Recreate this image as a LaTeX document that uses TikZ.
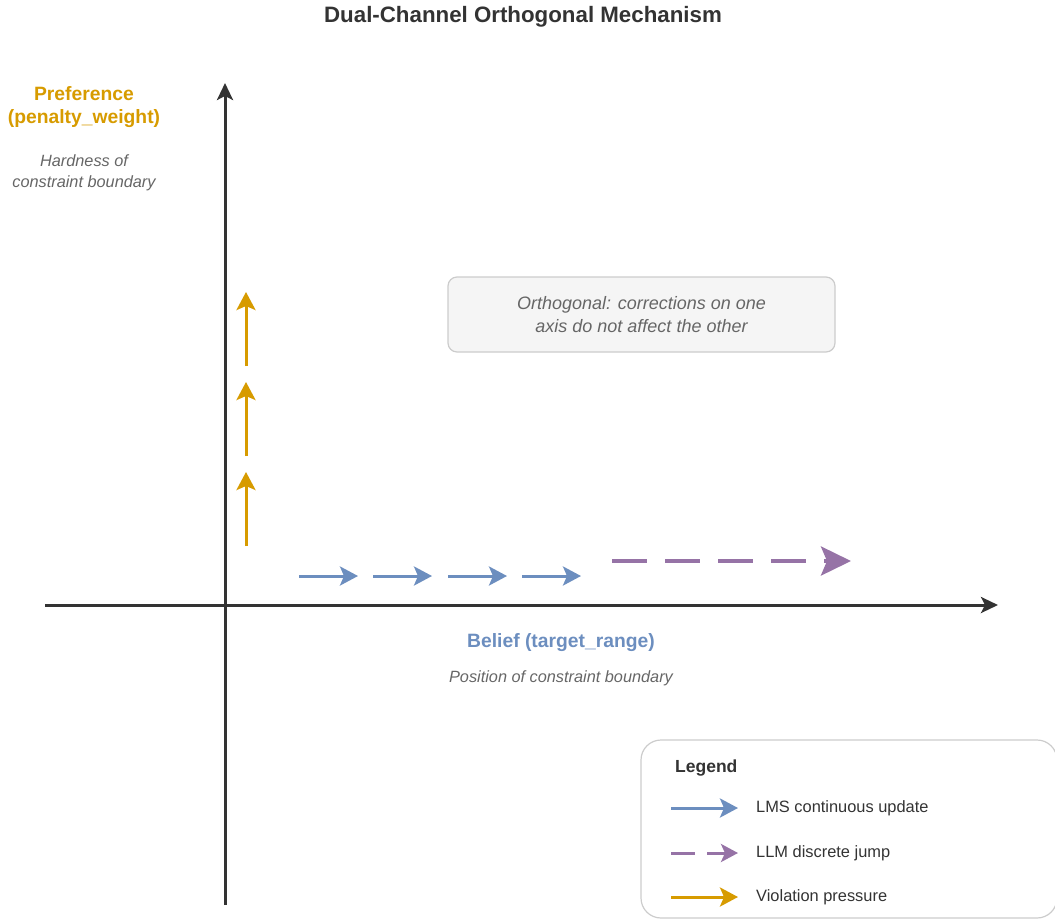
\documentclass[tikz,border=0pt]{standalone}
\usepackage{fontspec}
\setmainfont{Liberation Sans}
\usetikzlibrary{arrows.meta}

\definecolor{inkdark}{HTML}{333333}
\definecolor{inkgray}{HTML}{666666}
\definecolor{prefcol}{HTML}{D79B00}
\definecolor{beliefcol}{HTML}{6C8EBF}
\definecolor{jumpcol}{HTML}{9673A6}
\definecolor{notefill}{HTML}{F5F5F5}
\definecolor{notedraw}{HTML}{CCCCCC}

\tikzset{
  axisline/.style={draw=inkdark, line width=3pt,
    -{Stealth[length=17pt, width=16pt, inset=4pt]}},
  lmsarrow/.style={draw=beliefcol, line width=3pt,
    -{Stealth[length=18pt, width=19pt, inset=4pt]}},
  pressarrow/.style={draw=prefcol, line width=3pt,
    -{Stealth[length=18pt, width=19pt, inset=4pt]}},
  jumparrow/.style={draw=jumpcol, line width=4pt,
    dash pattern=on 35pt off 18pt,
    -{Stealth[length=30pt, width=29pt, inset=6pt]}},
  legjump/.style={draw=jumpcol, line width=3pt,
    dash pattern=on 24pt off 12pt,
    -{Stealth[length=17pt, width=18pt, inset=4pt]}},
  titletext/.style={text=inkdark, font=\fontsize{22.3}{26}\selectfont\bfseries},
  axisname/.style={font=\fontsize{19.3}{23}\selectfont\bfseries, align=center, inner sep=0pt},
  axisnote/.style={text=inkgray, font=\fontsize{16.3}{21}\selectfont\itshape, align=center, inner sep=0pt},
  legtext/.style={text=inkdark, font=\fontsize{16.4}{20}\selectfont, anchor=west, inner sep=0pt},
}

\begin{document}
\begin{tikzpicture}[x=1pt, y=-1pt]
  \useasboundingbox (0,0) rectangle (1055,919);

  % title
  \node[titletext] (title) at (523,17) {Dual-Channel Orthogonal Mechanism};

  % axes
  \coordinate (yfoot) at (225,905);
  \coordinate (ytop) at (225,83);
  \coordinate (xleft) at (45,605);
  \coordinate (xright) at (998,605);
  \draw[axisline] (yfoot) -- (ytop);
  \draw[axisline] (xleft) -- (xright);

  % vertical axis labels
  \node[axisname, text=prefcol] (preflabel) at (84,107) {Preference\\(penalty\_weight)};
  \node[axisnote] (prefnote) at (84,173) {Hardness of\\constraint boundary};

  % horizontal axis labels
  \node[axisname, text=beliefcol] (belieflabel) at (561,643) {Belief (target\_range)};
  \node[axisnote] (beliefnote) at (561,678) {Position of constraint boundary};

  % orthogonality note
  \node[draw=notedraw, fill=notefill, line width=1.2pt, rounded corners=9pt,
        minimum width=387pt, minimum height=75pt, align=center,
        text=inkgray, font=\fontsize{18}{23}\selectfont\itshape]
    (note) at (641.5,314.5) {Orthogonal: corrections on one\\axis do not affect the other};

  % violation pressure steps
  \foreach \i/\a/\b in {1/546/472, 2/456/382, 3/366/292} {
    \coordinate (p\i s) at (246,\a);
    \coordinate (p\i e) at (246,\b);
    \draw[pressarrow] (p\i s) -- (p\i e);
  }

  % LMS continuous updates
  \foreach \i/\a/\b in {1/299/358, 2/373/432, 3/448/507, 4/522/581} {
    \coordinate (l\i s) at (\a,576);
    \coordinate (l\i e) at (\b,576);
    \draw[lmsarrow] (l\i s) -- (l\i e);
  }

  % LLM discrete jump
  \coordinate (js) at (612,561);
  \coordinate (je) at (851,561);
  \draw[jumparrow] (js) -- (je);

  % legend
  \node[draw=notedraw, line width=1.2pt, rounded corners=20pt,
        minimum width=416pt, minimum height=178pt, inner sep=0pt]
    (legend) at (849,829) {};
  \node[text=inkdark, font=\fontsize{17.5}{21}\selectfont\bfseries, anchor=west, inner sep=0pt]
    (legtitle) at (675,768) {Legend};

  \coordinate (k1s) at (671,808); \coordinate (k1e) at (738,808);
  \coordinate (k2s) at (671,853); \coordinate (k2e) at (738,853);
  \coordinate (k3s) at (671,897); \coordinate (k3e) at (738,897);
  \draw[lmsarrow] (k1s) -- (k1e);
  \draw[legjump] (k2s) -- (k2e);
  \draw[pressarrow] (k3s) -- (k3e);

  \node[legtext] (k1t) at (756,808) {LMS continuous update};
  \node[legtext] (k2t) at (756,853) {LLM discrete jump};
  \node[legtext] (k3t) at (756,897) {Violation pressure};
\end{tikzpicture}
\end{document}
